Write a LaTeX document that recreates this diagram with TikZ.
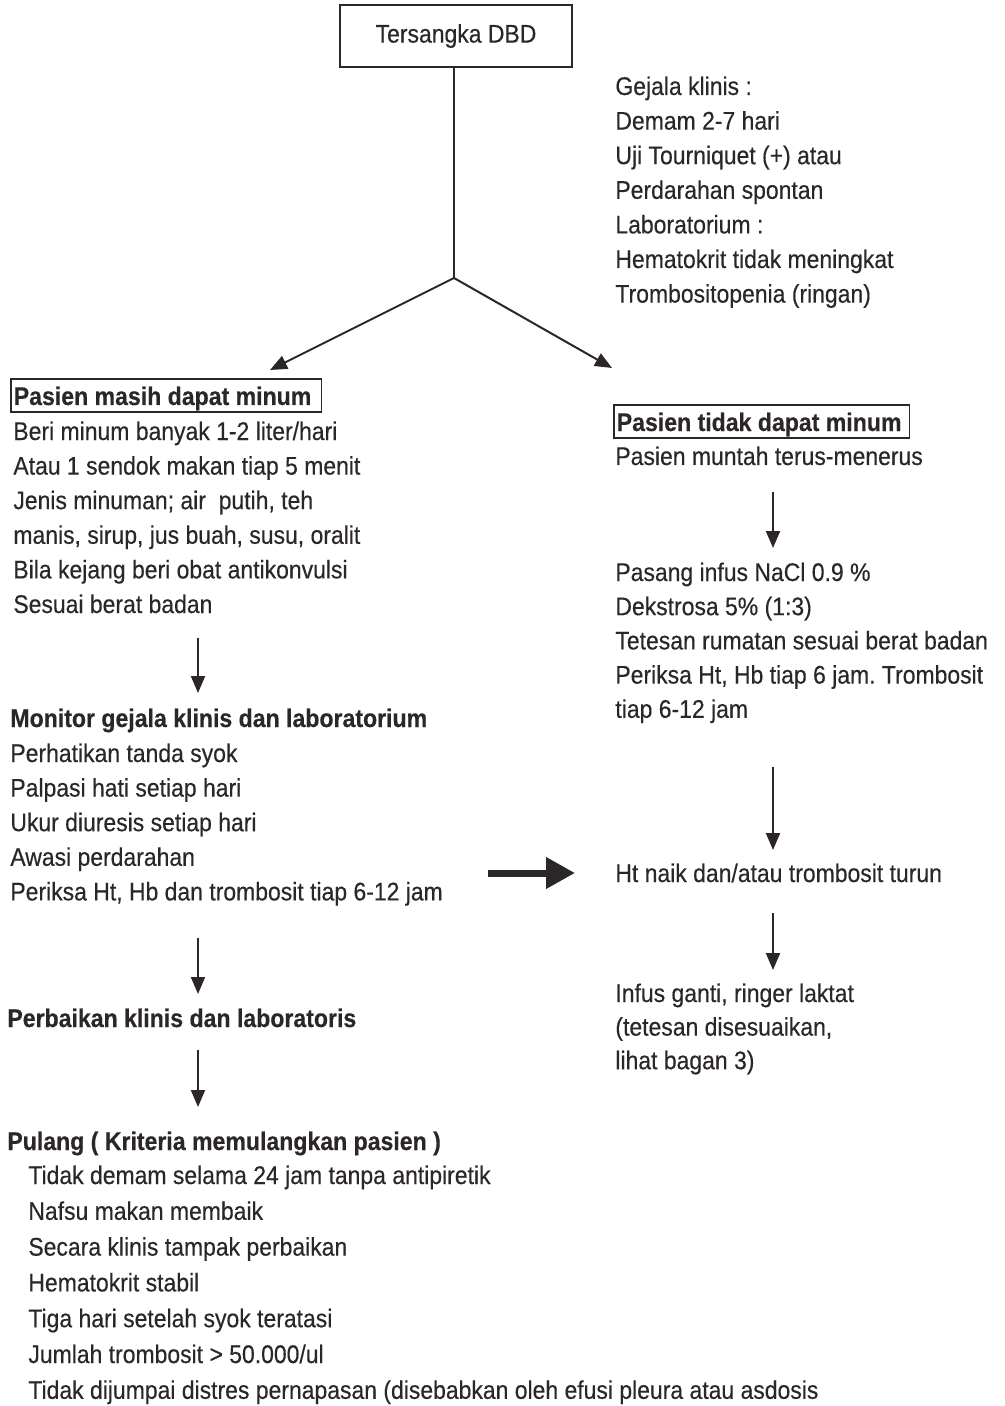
\documentclass[tikz,border=0pt]{standalone}
\usepackage{fontspec}
\setmainfont[FakeStretch=0.9, FakeBold=0.35,
  BoldFeatures={FakeStretch=0.905}]{Liberation Sans}
\usetikzlibrary{arrows.meta}
\definecolor{ink}{HTML}{2B2627}
\frenchspacing
% a block of left-aligned lines; baseline = baseline of the first line
\newcommand\lineblock[2]{\begingroup\fontsize{12.75}{#1}\selectfont
  \begin{tabular}[t]{@{}l@{}}#2\end{tabular}\endgroup}
\begin{document}
\begin{tikzpicture}[x=0.5pt,y=-0.5pt,
  every node/.style={inner sep=0pt, text=ink, font=\fontsize{12.75}{17.3}\selectfont},
  txt/.style={anchor=base west},
  head/.style={anchor=base west, font=\fontsize{12.75}{17.3}\selectfont\bfseries},
  framed/.style={head, draw=ink, line width=0.8pt, inner xsep=1.5pt,
    text height=13pt, text depth=3.5pt},
  conn/.style={draw=ink, line width=1pt},
  arr/.style={conn, -{Triangle[length=8.5pt,width=7pt]}},
  bigarr/.style={draw=ink, line width=3.5pt, -{Triangle[length=14.5pt,width=15pt]}}
]
\useasboundingbox (0,0) rectangle (1005,1406);

% start
\node[draw=ink, line width=1pt, minimum width=116pt, minimum height=31pt] (top) at (456,36) {Tersangka DBD};
\coordinate (split) at (454,278);
\coordinate (toleft) at (270,370);
\coordinate (toright) at (612,368);

\node[txt] (gejala) at (615,95) {\lineblock{17.3pt}{Gejala klinis :\\Demam 2-7 hari\\Uji Tourniquet (+) atau\\Perdarahan spontan\\Laboratorium :\\Hematokrit tidak meningkat\\Trombositopenia (ringan)}};

% left branch
\node[framed] (pm) at (10,405) {Pasien masih dapat minum\kern3.5pt};
\node[txt] (pmtext) at (13,440) {\lineblock{17.3pt}{Beri minum banyak 1-2 liter/hari\\Atau 1 sendok makan tiap 5 menit\\Jenis minuman; air~ putih, teh\\manis, sirup, jus buah, susu, oralit\\Bila kejang beri obat antikonvulsi\\Sesuai berat badan}};
\coordinate (l1a) at (198,638);
\coordinate (l1b) at (198,693);

\node[head] (mon) at (10,727) {Monitor gejala klinis dan laboratorium};
\node[txt] (montext) at (10,762) {\lineblock{17.3pt}{Perhatikan tanda syok\\Palpasi hati setiap hari\\Ukur diuresis setiap hari\\Awasi perdarahan\\Periksa Ht, Hb dan trombosit tiap 6-12 jam}};
\coordinate (bigA) at (488,873);
\coordinate (bigB) at (575,873);
\coordinate (l2a) at (198,938);
\coordinate (l2b) at (198,994);

\node[head] (perb) at (7,1027) {Perbaikan klinis dan laboratoris};
\coordinate (l3a) at (198,1050);
\coordinate (l3b) at (198,1107);

\node[head] (pul) at (7,1150) {Pulang ( Kriteria memulangkan pasien )};
\node[txt] (pultext) at (28,1184) {\lineblock{17.9pt}{Tidak demam selama 24 jam tanpa antipiretik\\Nafsu makan membaik\\Secara klinis tampak perbaikan\\Hematokrit stabil\\Tiga hari setelah syok teratasi\\Jumlah trombosit > 50.000/ul\\Tidak dijumpai distres pernapasan (disebabkan oleh efusi pleura atau asdosis}};

% right branch
\node[framed] (ptm) at (613,431) {Pasien tidak dapat minum\kern2.5pt};
\node[txt] (ptmtext) at (615,465) {Pasien muntah terus-menerus};
\coordinate (r1a) at (773,492);
\coordinate (r1b) at (773,548);

\node[txt] (infus) at (615,581) {\lineblock{17.1pt}{Pasang infus NaCl 0.9 \%\\Dekstrosa 5\% (1:3)\\Tetesan rumatan sesuai berat badan\\Periksa Ht, Hb tiap 6 jam. Trombosit\\tiap 6-12 jam}};
\coordinate (r2a) at (773,767);
\coordinate (r2b) at (773,850);

\node[txt] (ht) at (615,882) {Ht naik dan/atau trombosit turun};
\coordinate (r3a) at (773,913);
\coordinate (r3b) at (773,970);

\node[txt] (ganti) at (615,1002) {\lineblock{16.8pt}{Infus ganti, ringer laktat\\(tetesan disesuaikan,\\lihat bagan 3)}};

% connectors
\draw[conn] (top.south -| split) -- (split);
\draw[arr] (split) -- (toleft);
\draw[arr] (split) -- (toright);
\draw[arr] (l1a) -- (l1b);
\draw[arr] (l2a) -- (l2b);
\draw[arr] (l3a) -- (l3b);
\draw[bigarr] (bigA) -- (bigB);
\draw[arr] (r1a) -- (r1b);
\draw[arr] (r2a) -- (r2b);
\draw[arr] (r3a) -- (r3b);
\end{tikzpicture}
\end{document}
